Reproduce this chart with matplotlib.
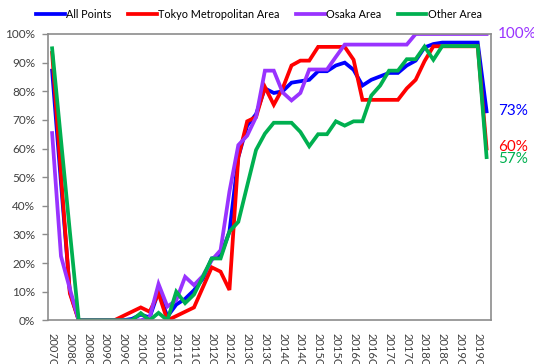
import matplotlib
matplotlib.use("Agg")
import matplotlib.pyplot as plt
from matplotlib.ticker import PercentFormatter, MultipleLocator
from matplotlib.transforms import blended_transform_factory

# quarters shown on the x axis (2007Q4 .. 2020Q1)
quarters = [
    "2007Q4",
    "2008Q1", "2008Q2", "2008Q3", "2008Q4",
    "2009Q1", "2009Q2", "2009Q3", "2009Q4",
    "2010Q1", "2010Q2", "2010Q3", "2010Q4",
    "2011Q1", "2011Q2", "2011Q3", "2011Q4",
    "2012Q1", "2012Q2", "2012Q3", "2012Q4",
    "2013Q1", "2013Q2", "2013Q3", "2013Q4",
    "2014Q1", "2014Q2", "2014Q3", "2014Q4",
    "2015Q1", "2015Q2", "2015Q3", "2015Q4",
    "2016Q1", "2016Q2", "2016Q3", "2016Q4",
    "2017Q1", "2017Q2", "2017Q3", "2017Q4",
    "2018Q1", "2018Q2", "2018Q3", "2018Q4",
    "2019Q1", "2019Q2", "2019Q3", "2019Q4",
    "2020Q1",
]

# values in %
all_points = [87.2, 48, 10, 0, 0, 0, 0, 0, 0, 0.5,
              2, 1, 10, 1.3, 5.5, 7.5, 10.5, 14.5, 21.6, 22.5,
              31, 57, 68, 72, 81, 79.4, 80, 83, 83.5, 84,
              87, 87, 89, 90, 87.5, 82, 84, 85.2, 86.4, 86.4,
              89, 90.7, 95.3, 96.5, 97, 97, 97, 97, 97, 73]
tokyo = [93.4, 51, 9.4, 0, 0, 0, 0, 0, 1.5, 3,
         4.5, 3, 9.4, 0, 1.5, 3, 4.5, 11.5, 18.5, 17,
         10.6, 57, 69.5, 71, 81.5, 75.3, 81, 89, 90.7, 90.7,
         95.5, 95.5, 95.5, 95.5, 91, 77, 77, 77, 77, 77,
         81, 84, 90.5, 95.7, 95.7, 95.7, 95.7, 95.7, 95.7, 60]
osaka = [65.4, 22.4, 11, 0, 0, 0, 0, 0, 0, 0,
         0, 1, 12.7, 4.8, 7, 15.2, 12.3, 15.5, 21, 24.5,
         45, 61.2, 64.5, 71, 87.2, 87.2, 79.6, 76.8, 79.4, 87.6,
         87.6, 87.6, 92, 96.3, 96.3, 96.3, 96.3, 96.3, 96.3, 96.3,
         96.3, 100, 100, 100, 100, 100, 100, 100, 100, 100]
other = [95, 63, 31, 0, 0, 0, 0, 0, 0, 0,
         2.5, 0, 2.6, 0, 10, 6, 9, 15.2, 21.6, 21.6,
         31, 34.4, 47, 59.5, 65.2, 69, 69, 69, 65.8, 60.8,
         65, 65, 69.5, 68, 69.5, 69.5, 78.5, 82, 87.2, 87.2,
         91.2, 91.2, 95.6, 91, 95.8, 95.8, 95.8, 95.8, 95.8, 57]

series = [
    ("All Points", all_points, "#0000FF"),
    ("Tokyo Metropolitan Area", tokyo, "#FF0000"),
    ("Osaka Area", osaka, "#9933FF"),
    ("Other Area", other, "#00B050"),
]
# small vertical nudges (in % units) so the end labels don't collide
label_nudge = {"All Points": 0, "Tokyo Metropolitan Area": 0.6,
               "Osaka Area": 0, "Other Area": -0.8}

plt.rcParams["font.family"] = ["Lato", "DejaVu Sans"]

fig = plt.figure(figsize=(5.34, 3.64), dpi=100)
ax = fig.add_axes([0.0893, 0.12, 0.8302, 0.7866])

x = list(range(len(quarters)))
for name, vals, color in series:
    ax.plot(x, vals, color=color, lw=2.7, label=name, solid_joinstyle="miter")

ax.set_xlim(-0.5, len(quarters) - 0.5)
ax.set_ylim(0, 100)
ax.yaxis.set_major_locator(MultipleLocator(10))
ax.yaxis.set_major_formatter(PercentFormatter(100, decimals=0))
ax.set_xticks(x[::2])
ax.set_xticklabels(quarters[::2], rotation=-90, fontsize=8, color="#404040")
ax.tick_params(axis="x", length=0, pad=9)
ax.tick_params(axis="y", length=4, width=1, color="#8c8c8c", labelsize=8.5,
               labelcolor="#404040", pad=5)
for sp in ax.spines.values():
    sp.set_color("#8c8c8c")
    sp.set_linewidth(1.2)

# end-of-line value labels
trans = blended_transform_factory(ax.transAxes, ax.transData)
for name, vals, color in series:
    ax.text(1.016, vals[-1] + label_nudge[name], f"{vals[-1]:.0f}%", transform=trans,
            color=color, fontsize=11, va="center", ha="left", clip_on=False)

fig.legend(loc="center", bbox_to_anchor=(0.485, 0.9615), ncol=4, frameon=False,
           fontsize=7.8, handlelength=2.6, handletextpad=0.1, columnspacing=1.6)

plt.savefig("out.png", dpi=100)
